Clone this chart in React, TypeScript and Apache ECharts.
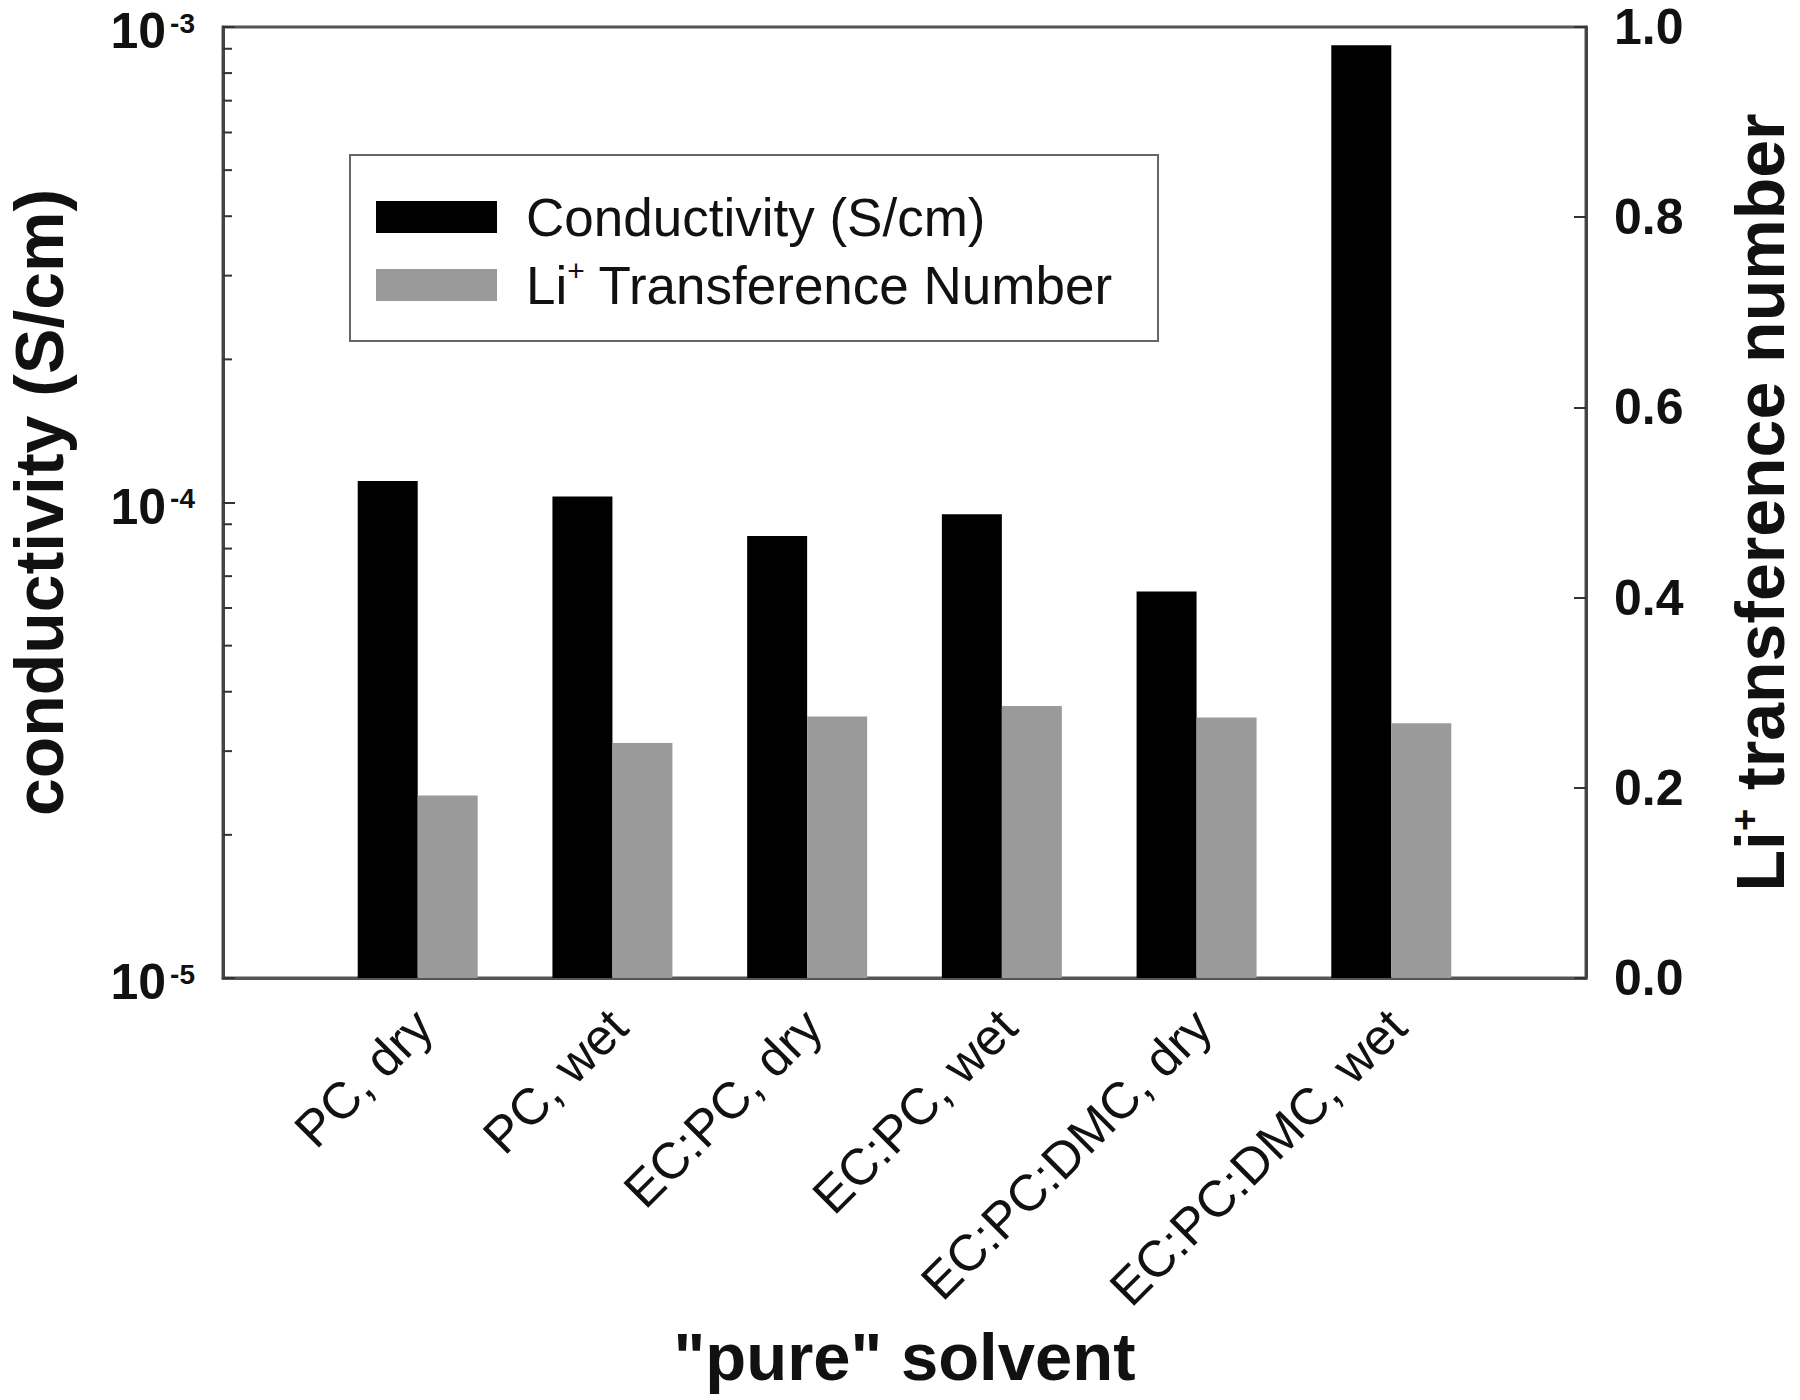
import React, { useEffect, useRef } from 'react';
import * as echarts from 'echarts';

const categories = ['PC, dry', 'PC, wet', 'EC:PC, dry', 'EC:PC, wet', 'EC:PC:DMC, dry', 'EC:PC:DMC, wet'];
const conductivity = [1.11e-4, 1.03e-4, 8.5e-5, 9.45e-5, 6.5e-5, 9.15e-4];
const transference = [0.192, 0.247, 0.275, 0.286, 0.274, 0.268];
const minorTicks = [
  2e-5, 3e-5, 4e-5, 5e-5, 6e-5, 7e-5, 8e-5, 9e-5,
  2e-4, 3e-4, 4e-4, 5e-4, 6e-4, 7e-4, 8e-4, 9e-4,
];
const condName = 'Conductivity (S/cm)';
const transName = 'Li+ Transference Number';

const FONT = '"Liberation Sans", Arial, Helvetica, sans-serif';

export default function App() {
  const ref = useRef<HTMLDivElement>(null);

  useEffect(() => {
    if (!ref.current) return;
    const chart = echarts.init(ref.current, null, { renderer: 'svg' });
    const cats = ['', ...categories, ''];
    const condData = [null, ...conductivity, null];
    const transData = [null, ...transference, null];

    const option: any = {
      animation: false,
      backgroundColor: '#ffffff',
      grid: {
        left: 223,
        right: 214,
        top: 27,
        bottom: 422,
        show: true,
        borderColor: '#555',
        borderWidth: 3,
        containLabel: false,
        outerBoundsMode: 'none',
      },
      legend: {
        orient: 'vertical',
        left: 350,
        top: 155,
        data: [condName, transName],
        icon: 'rect',
        itemWidth: 121,
        itemHeight: 32,
        itemGap: 8,
        padding: [32, 45, 26, 26],
        borderColor: '#666',
        borderWidth: 2,
        selectedMode: false,
        formatter: (name: string) => (name === transName ? 'Li{sup|+} Transference Number' : name),
        textStyle: {
          fontFamily: FONT,
          fontSize: 53,
          color: '#111',
          lineHeight: 60,
          padding: [0, 0, 0, 24],
          rich: {
            sup: { fontFamily: FONT, fontSize: 30, lineHeight: 36, verticalAlign: 'top', color: '#111' },
          },
        },
      },
      xAxis: {
        type: 'category',
        data: cats,
        boundaryGap: false,
        axisLine: { show: true, lineStyle: { color: '#555', width: 3 } },
        axisTick: { show: false },
        splitLine: { show: false },
        axisLabel: {
          interval: 0,
          rotate: 45,
          align: 'right',
          verticalAlign: 'top',
          margin: 10,
          padding: [0, 17, 0, 0],
          fontFamily: FONT,
          fontSize: 51,
          color: '#111',
        },
        name: '"pure" solvent',
        nameLocation: 'middle',
        nameGap: 345,
        nameTextStyle: { fontFamily: FONT, fontSize: 67, fontWeight: 'bold', color: '#111', verticalAlign: 'top' },
      },
      yAxis: [
        {
          type: 'log',
          logBase: 10,
          min: 1e-5,
          max: 1e-3,
          startValue: 1e-5,
          position: 'left',
          axisLine: { show: true, lineStyle: { color: '#444', width: 3 } },
          axisTick: { show: true, inside: true, length: 12, lineStyle: { color: '#333', width: 2 } },
          splitLine: { show: false },
          axisLabel: {
            margin: 28,
            padding: [8, 0, 0, 0],
            formatter: (v: number) => `{b|10}{s|${Math.round(Math.log10(v))}}`,
            rich: {
              b: { fontFamily: FONT, fontSize: 50, fontWeight: 'bold', color: '#111', lineHeight: 44 },
              s: { fontFamily: FONT, fontSize: 28, fontWeight: 'bold', color: '#111', lineHeight: 30, verticalAlign: 'top', padding: [0, 0, 0, 4] },
            },
          },
          name: 'conductivity (S/cm)',
          nameLocation: 'middle',
          nameRotate: 90,
          nameGap: 150,
          nameTextStyle: { fontFamily: FONT, fontSize: 68, fontWeight: 'bold', color: '#111' },
        },
        {
          type: 'value',
          min: 0,
          max: 1,
          interval: 0.2,
          position: 'right',
          axisLine: { show: true, lineStyle: { color: '#444', width: 3 } },
          axisTick: { show: true, inside: true, length: 12, lineStyle: { color: '#333', width: 2 } },
          splitLine: { show: false },
          axisLabel: {
            margin: 28,
            padding: [8, 0, 0, 0],
            formatter: (v: number) => v.toFixed(1),
            fontFamily: FONT,
            fontSize: 50,
            lineHeight: 40,
            fontWeight: 'bold',
            color: '#111',
          },
          name: 'Li{sup|+} transference number',
          nameLocation: 'middle',
          nameRotate: 90,
          nameGap: 140,
          nameTextStyle: {
            fontFamily: FONT,
            fontSize: 68,
            fontWeight: 'bold',
            color: '#111',
            rich: {
              sup: { fontFamily: FONT, fontSize: 38, fontWeight: 'bold', color: '#111', lineHeight: 44, verticalAlign: 'top' },
            },
          },
        },
      ],
      series: [
        {
          name: condName,
          type: 'bar',
          xAxisIndex: 0,
          yAxisIndex: 0,
          data: condData,
          barWidth: 60,
          barGap: '0%',
          itemStyle: { color: '#000000' },
        },
        {
          name: transName,
          type: 'bar',
          xAxisIndex: 0,
          yAxisIndex: 1,
          data: transData,
          barWidth: 60,
          barGap: '0%',
          itemStyle: { color: '#9a9a9a' },
        },
        {
          name: 'minor ticks',
          type: 'custom',
          xAxisIndex: 0,
          yAxisIndex: 0,
          silent: true,
          z: 5,
          clip: false,
          data: minorTicks.map((v) => [1, v]),
          encode: { x: 0, y: 1 },
          renderItem: (params: any, api: any) => {
            const pt = api.coord([api.value(0), api.value(1)]);
            const x0 = params.coordSys.x;
            return {
              type: 'line',
              shape: { x1: x0, y1: pt[1], x2: x0 + 9, y2: pt[1] },
              style: { stroke: '#333', lineWidth: 2 },
            };
          },
        },
      ],
    };

    chart.setOption(option);
    return () => chart.dispose();
  }, []);

  return (
    <div
      ref={ref}
      style={{ position: 'absolute', left: 0, top: 0, width: 1800, height: 1400, background: '#fff' }}
    />
  );
}
